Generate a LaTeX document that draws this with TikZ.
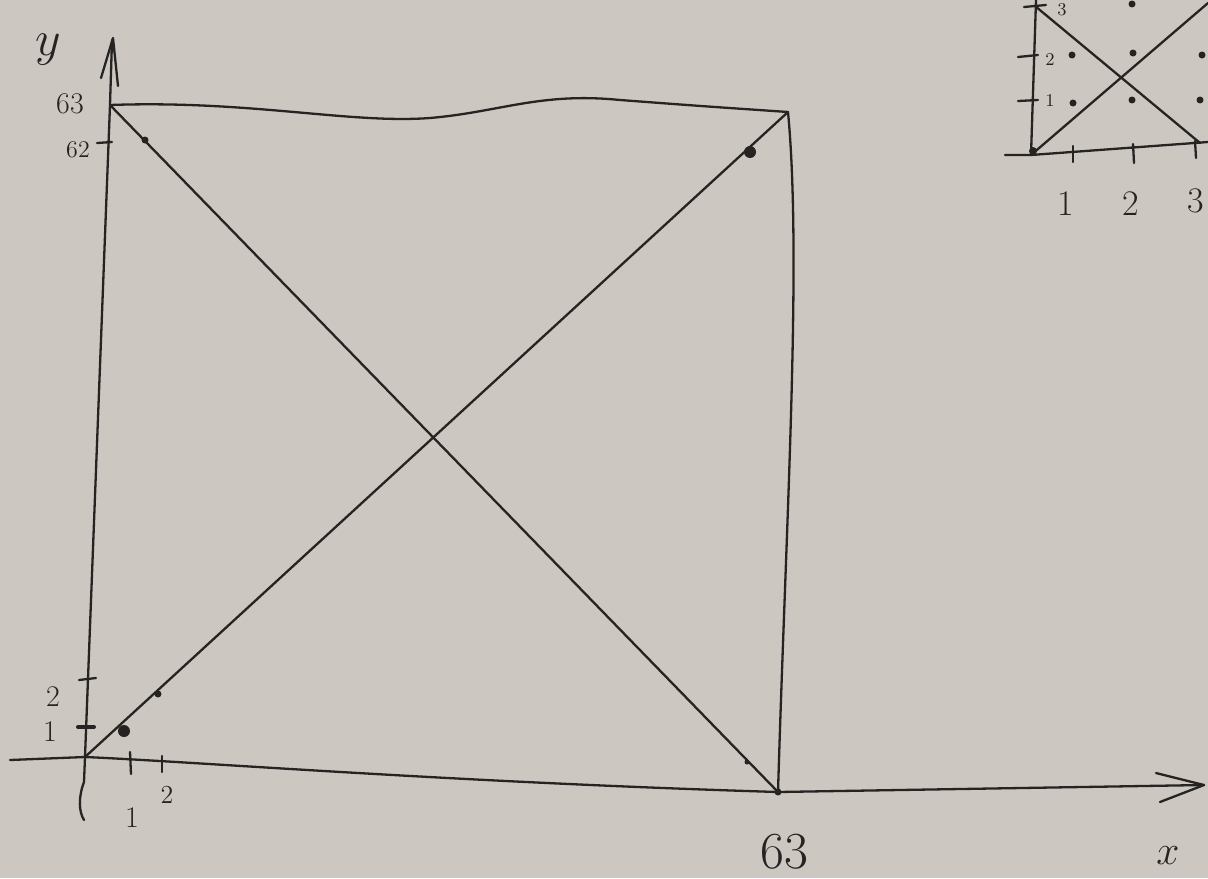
\documentclass[tikz,border=0pt]{standalone}
\usepackage{tikz}
\definecolor{paper}{RGB}{204,199,192}
\definecolor{ink}{RGB}{38,36,34}
\tikzset{
  pen/.style={draw=ink,line width=1.15pt,line cap=round,line join=round},
  dotmark/.style={fill=ink},
  lbl/.style={text=ink,inner sep=0pt},
}
\begin{document}
\begin{tikzpicture}[x=0.5pt,y=-0.5pt]
\fill[paper] (0,0) rectangle (1208,878);
\useasboundingbox (0,0) rectangle (1208,878);
% key points
\coordinate (O) at (85,757);
\coordinate (TL) at (110,105);
\coordinate (TR) at (788,112);
\coordinate (BR) at (778,792);
\coordinate (Ytop) at (112,40);
\coordinate (Xleft) at (10,760);
\coordinate (Xend) at (1204,785);
% y axis
\draw[pen] (O) -- (84,782) .. controls (78,798) and (79,812) .. (84,820);
\draw[pen] (O) -- (TL) -- (Ytop);
\draw[pen] (101,78) -- (113,38) -- (118,86);
% x axis
\draw[pen] (Xleft) -- (O) .. controls (200,762) and (450,782) .. (BR) -- (Xend);
\draw[pen] (1156,773) -- (Xend) -- (1160,802);
% square
\draw[pen] (TL) .. controls (250,100) and (350,124) .. (430,118)
  .. controls (500,112) and (540,92) .. (620,100)
  .. controls (700,106) .. (TR);
\draw[pen] (TR) .. controls (802,260) and (786,520) .. (BR);
% diagonals
\draw[pen] (TL) -- (BR);
\draw[pen] (O) -- (TR);
% dots on diagonals
\fill[dotmark] (750,152) circle (6);
\fill[dotmark] (124,731) circle (6);
\fill[dotmark] (158,694) circle (3.5);
\fill[dotmark] (145,140) circle (3.5);
\fill[dotmark] (747,762) circle (2.5);
\fill[dotmark] (BR) circle (3.5);
% ticks
\draw[pen,line width=2pt] (78,727) -- (94,727);
\draw[pen] (79,680) -- (96,678);
\draw[pen] (97,143) -- (112,142);
\draw[pen] (130,752) -- (131,774);
\draw[pen] (162,756) -- (162,772);
% labels main
\node[lbl,font=\fontsize{30}{32}\selectfont] (ylab) at (48,50) {$y$};
\node[lbl,font=\fontsize{15}{16}\selectfont] (l63y) at (70,104) {63};
\node[lbl,font=\fontsize{12}{13}\selectfont] (l62y) at (78,150) {62};
\node[lbl,font=\fontsize{15}{16}\selectfont] (l2y) at (53,697) {2};
\node[lbl,font=\fontsize{15}{16}\selectfont] (l1y) at (50,732) {1};
\node[lbl,font=\fontsize{13}{14}\selectfont] (l2x) at (167,795) {2};
\node[lbl,font=\fontsize{15}{16}\selectfont] (l1x) at (132,818) {1};
\node[lbl,font=\fontsize{26}{28}\selectfont] (l63x) at (784,852) {63};
\node[lbl,font=\fontsize{22}{24}\selectfont] (xlab) at (1168,856) {$x$};
% inset
\coordinate (iO) at (1031,155);
\draw[pen] (iO) -- (1036,0);
\draw[pen] (1005,155) -- (iO) -- (1208,142);
\draw[pen] (iO) -- (1208,3);
\draw[pen] (1035,6) -- (1200,143);
\fill[dotmark] (1033,151) circle (4);
\draw[pen] (1018,57) -- (1038,55);
\draw[pen] (1018,101) -- (1038,100);
\draw[pen] (1024,7) -- (1046,5);
\draw[pen] (1073,146) -- (1073,162);
\draw[pen] (1133,144) -- (1134,163);
\draw[pen] (1195,141) -- (1196,158);
\foreach \p in {(1072,55),(1133,53),(1202,55),(1073,103),(1132,100),(1200,100),(1132,4)}
  \fill[dotmark] \p circle (3.5);
\node[lbl,font=\fontsize{9}{10}\selectfont] (i1y) at (1050,101) {1};
\node[lbl,font=\fontsize{9}{10}\selectfont] (i2y) at (1050,60) {2};
\node[lbl,font=\fontsize{9}{10}\selectfont] (i3y) at (1062,10) {3};
\node[lbl,font=\fontsize{18}{20}\selectfont] (i1x) at (1066,204) {1};
\node[lbl,font=\fontsize{18}{20}\selectfont] (i2x) at (1131,204) {2};
\node[lbl,font=\fontsize{18}{20}\selectfont] (i3x) at (1196,201) {3};
\end{tikzpicture}
\end{document}
